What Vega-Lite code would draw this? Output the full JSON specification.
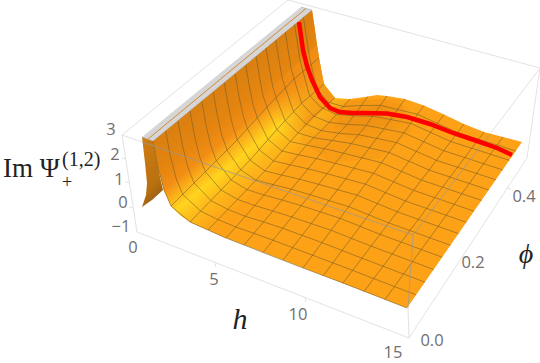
{"$schema":"https://vega.github.io/schema/vega-lite/v6.json","width":540,"height":363,"padding":0,"autosize":{"type":"none"},"background":"white","view":{"stroke":null},
"datasets":{
"box":[
{"s":"a","o":0,"x":122,"y":135},{"s":"a","o":1,"x":288,"y":0},{"s":"a","o":2,"x":540,"y":68},{"s":"a","o":3,"x":527,"y":158},{"s":"a","o":4,"x":409,"y":338},{"s":"a","o":5,"x":137,"y":232},{"s":"a","o":6,"x":122,"y":135},
{"s":"b","o":0,"x":122,"y":135},{"s":"b","o":1,"x":142,"y":142},
{"s":"c","o":0,"x":408,"y":308},{"s":"c","o":1,"x":409,"y":338},
{"s":"d","o":0,"x":490,"y":134},{"s":"d","o":1,"x":540,"y":68},
{"s":"t1","o":0,"x":126,"y":159},{"s":"t1","o":1,"x":122,"y":158},
{"s":"t2","o":0,"x":130,"y":183},{"s":"t2","o":1,"x":126,"y":182},
{"s":"t3","o":0,"x":133,"y":208},{"s":"t3","o":1,"x":129,"y":207},
{"s":"t4","o":0,"x":216,"y":263},{"s":"t4","o":1,"x":215,"y":267},
{"s":"t5","o":0,"x":306,"y":298},{"s":"t5","o":1,"x":305,"y":302},
{"s":"t6","o":0,"x":462,"y":257},{"s":"t6","o":1,"x":466,"y":258},
{"s":"t7","o":0,"x":507,"y":188},{"s":"t7","o":1,"x":511,"y":189}
],
"surface":[
{"o":0,"x":153,"y":141},{"o":1,"x":312,"y":10},{"o":2,"x":315,"y":30},{"o":3,"x":317,"y":45},{"o":4,"x":319,"y":58},{"o":5,"x":322,"y":75},{"o":6,"x":324,"y":84},{"o":7,"x":328,"y":92},{"o":8,"x":335,"y":98},{"o":9,"x":342,"y":100},{"o":10,"x":350,"y":99},{"o":11,"x":368,"y":96.5},{"o":12,"x":377,"y":95},{"o":13,"x":387,"y":96},{"o":14,"x":405,"y":99},{"o":15,"x":424,"y":105.5},{"o":16,"x":444,"y":114.5},{"o":17,"x":464,"y":124},{"o":18,"x":484,"y":132},{"o":19,"x":503,"y":137},{"o":20,"x":522,"y":142},{"o":21,"x":407,"y":308},{"o":22,"x":226,"y":238},{"o":23,"x":208,"y":230},{"o":24,"x":190,"y":222},{"o":25,"x":180,"y":215},{"o":26,"x":171,"y":206},{"o":27,"x":164,"y":190},{"o":28,"x":158,"y":167}
],
"wall":[
{"o":0,"x":153,"y":141},{"o":1,"x":312,"y":10},{"o":2,"x":315,"y":30},{"o":3,"x":317,"y":45},{"o":4,"x":319,"y":58},{"o":5,"x":324,"y":84},{"o":6,"x":335,"y":98},{"o":7,"x":350,"y":99},{"o":8,"x":226,"y":238},{"o":9,"x":208,"y":230},{"o":10,"x":190,"y":222},{"o":11,"x":180,"y":215},{"o":12,"x":171,"y":206},{"o":13,"x":164,"y":190},{"o":14,"x":158,"y":167}
],
"fade":[
{"o":0,"x":263.1,"y":96},{"o":1,"x":317,"y":45},{"o":2,"x":319,"y":58},{"o":3,"x":324,"y":84},{"o":4,"x":335,"y":98},{"o":5,"x":290.3,"y":141.5}
],
"bump":[
{"s":"b0","o":0,"x":305,"y":118},{"s":"b0","o":1,"x":335,"y":100},{"s":"b0","o":2,"x":400,"y":99},{"s":"b0","o":3,"x":412,"y":130},{"s":"b0","o":4,"x":380,"y":158},{"s":"b0","o":5,"x":330,"y":162},{"s":"b0","o":6,"x":300,"y":140},
{"s":"b1","o":0,"x":332,"y":108},{"s":"b1","o":1,"x":345,"y":102},{"s":"b1","o":2,"x":385,"y":99},{"s":"b1","o":3,"x":408,"y":108},{"s":"b1","o":4,"x":398,"y":128},{"s":"b1","o":5,"x":360,"y":140},{"s":"b1","o":6,"x":335,"y":133},
{"s":"b2","o":0,"x":340,"y":111},{"s":"b2","o":1,"x":385,"y":103},{"s":"b2","o":2,"x":400,"y":112},{"s":"b2","o":3,"x":390,"y":124},{"s":"b2","o":4,"x":355,"y":133},{"s":"b2","o":5,"x":338,"y":125},
{"s":"b3","o":0,"x":350,"y":113},{"s":"b3","o":1,"x":380,"y":107},{"s":"b3","o":2,"x":390,"y":113},{"s":"b3","o":3,"x":375,"y":122},{"s":"b3","o":4,"x":350,"y":127}
],
"brown":[
{"o":0,"x":142,"y":137},{"o":1,"x":153,"y":141},{"o":2,"x":160,"y":177},{"o":3,"x":163,"y":190},{"o":4,"x":152,"y":200},{"o":5,"x":142,"y":207},{"o":6,"x":146,"y":195},{"o":7,"x":147,"y":183},{"o":8,"x":145,"y":163}
],
"strip":[
{"o":0,"x":142,"y":137},{"o":1,"x":153,"y":141},{"o":2,"x":312,"y":10},{"o":3,"x":301,"y":7}
],
"stripline":[
{"o":0,"x":148,"y":139},{"o":1,"x":306,"y":8.5}
],
"mesh":[
{"s":"p0","o":0,"x":153,"y":141},{"s":"p0","o":1,"x":158,"y":167},{"s":"p0","o":2,"x":164,"y":190},{"s":"p0","o":3,"x":171,"y":206},{"s":"p0","o":4,"x":190,"y":222},{"s":"p0","o":5,"x":208,"y":230},{"s":"p0","o":6,"x":226,"y":238},{"s":"p0","o":7,"x":244,"y":245},{"s":"p0","o":8,"x":263,"y":252.5},{"s":"p0","o":9,"x":303,"y":268},{"s":"p0","o":10,"x":343,"y":283},{"s":"p0","o":11,"x":407,"y":308},
{"s":"p1","o":0,"x":165.6,"y":130.7},{"s":"p1","o":1,"x":170.4,"y":156.2},{"s":"p1","o":2,"x":176.1,"y":178.5},{"s":"p1","o":3,"x":182.7,"y":194.3},{"s":"p1","o":4,"x":200.6,"y":211.1},{"s":"p1","o":5,"x":218,"y":219.6},{"s":"p1","o":6,"x":235.8,"y":227},{"s":"p1","o":7,"x":253.8,"y":233.3},{"s":"p1","o":8,"x":272.8,"y":240.1},{"s":"p1","o":9,"x":312.6,"y":255.2},{"s":"p1","o":10,"x":352.6,"y":270.4},{"s":"p1","o":11,"x":416.1,"y":294.9},
{"s":"p2","o":0,"x":177.8,"y":120.6},{"s":"p2","o":1,"x":182.5,"y":145.6},{"s":"p2","o":2,"x":187.9,"y":167.4},{"s":"p2","o":3,"x":194.1,"y":182.9},{"s":"p2","o":4,"x":210.9,"y":200.5},{"s":"p2","o":5,"x":227.8,"y":209.4},{"s":"p2","o":6,"x":245.3,"y":216.3},{"s":"p2","o":7,"x":263.3,"y":221.8},{"s":"p2","o":8,"x":282.3,"y":228.1},{"s":"p2","o":9,"x":321.9,"y":242.6},{"s":"p2","o":10,"x":361.9,"y":258.2},{"s":"p2","o":11,"x":424.9,"y":282.1},
{"s":"p3","o":0,"x":189.9,"y":110.6},{"s":"p3","o":1,"x":194.4,"y":135.2},{"s":"p3","o":2,"x":199.5,"y":156.4},{"s":"p3","o":3,"x":205.3,"y":171.7},{"s":"p3","o":4,"x":221.1,"y":190},{"s":"p3","o":5,"x":237.5,"y":199.4},{"s":"p3","o":6,"x":254.8,"y":205.5},{"s":"p3","o":7,"x":272.8,"y":211},{"s":"p3","o":8,"x":291.8,"y":217},{"s":"p3","o":9,"x":331.1,"y":230.3},{"s":"p3","o":10,"x":371.1,"y":246.1},{"s":"p3","o":11,"x":433.7,"y":269.5},
{"s":"p4","o":0,"x":201.7,"y":100.9},{"s":"p4","o":1,"x":206,"y":125.1},{"s":"p4","o":2,"x":210.8,"y":145.6},{"s":"p4","o":3,"x":216.3,"y":160.7},{"s":"p4","o":4,"x":231,"y":179.8},{"s":"p4","o":5,"x":246.9,"y":189.6},{"s":"p4","o":6,"x":263.9,"y":195},{"s":"p4","o":7,"x":281.9,"y":199.9},{"s":"p4","o":8,"x":301,"y":205.6},{"s":"p4","o":9,"x":340,"y":218.3},{"s":"p4","o":10,"x":380,"y":234.3},{"s":"p4","o":11,"x":442.2,"y":257.2},
{"s":"p5","o":0,"x":213.1,"y":91.5},{"s":"p5","o":1,"x":217.3,"y":115.2},{"s":"p5","o":2,"x":221.8,"y":135.2},{"s":"p5","o":3,"x":227,"y":150.1},{"s":"p5","o":4,"x":240.7,"y":169.8},{"s":"p5","o":5,"x":256,"y":180.1},{"s":"p5","o":6,"x":272.9,"y":184.6},{"s":"p5","o":7,"x":290.9,"y":189.1},{"s":"p5","o":8,"x":309.9,"y":194.7},{"s":"p5","o":9,"x":348.7,"y":206.6},{"s":"p5","o":10,"x":388.7,"y":222.9},{"s":"p5","o":11,"x":450.5,"y":245.3},
{"s":"p6","o":0,"x":224.2,"y":82.3},{"s":"p6","o":1,"x":228.3,"y":105.6},{"s":"p6","o":2,"x":232.5,"y":125},{"s":"p6","o":3,"x":237.3,"y":139.7},{"s":"p6","o":4,"x":250,"y":160.2},{"s":"p6","o":5,"x":264.9,"y":170.9},{"s":"p6","o":6,"x":281.6,"y":175},{"s":"p6","o":7,"x":299.6,"y":179.2},{"s":"p6","o":8,"x":318.6,"y":184.3},{"s":"p6","o":9,"x":357.2,"y":195.2},{"s":"p6","o":10,"x":397.2,"y":211.8},{"s":"p6","o":11,"x":458.5,"y":233.6},
{"s":"p7","o":0,"x":235,"y":73.4},{"s":"p7","o":1,"x":239,"y":96.3},{"s":"p7","o":2,"x":243,"y":115.2},{"s":"p7","o":3,"x":247.4,"y":128.6},{"s":"p7","o":4,"x":259.1,"y":149.8},{"s":"p7","o":5,"x":273.5,"y":160.9},{"s":"p7","o":6,"x":290,"y":164.8},{"s":"p7","o":7,"x":308,"y":168.8},{"s":"p7","o":8,"x":327,"y":173.7},{"s":"p7","o":9,"x":365.4,"y":184.1},{"s":"p7","o":10,"x":405.4,"y":201},{"s":"p7","o":11,"x":466.3,"y":222.3},
{"s":"p8","o":0,"x":245.7,"y":64.6},{"s":"p8","o":1,"x":249.5,"y":87.1},{"s":"p8","o":2,"x":253.2,"y":105.5},{"s":"p8","o":3,"x":257.3,"y":117.7},{"s":"p8","o":4,"x":268.1,"y":139.5},{"s":"p8","o":5,"x":282,"y":151},{"s":"p8","o":6,"x":298.3,"y":154.8},{"s":"p8","o":7,"x":316.3,"y":158.6},{"s":"p8","o":8,"x":335.3,"y":163.3},{"s":"p8","o":9,"x":373.5,"y":173.3},{"s":"p8","o":10,"x":413.5,"y":190.3},{"s":"p8","o":11,"x":474,"y":211.2},
{"s":"p9","o":0,"x":256,"y":56.1},{"s":"p9","o":1,"x":259.7,"y":78.2},{"s":"p9","o":2,"x":263.1,"y":96},{"s":"p9","o":3,"x":266.9,"y":107.1},{"s":"p9","o":4,"x":276.8,"y":129.6},{"s":"p9","o":5,"x":290.3,"y":141.5},{"s":"p9","o":6,"x":306.4,"y":145.1},{"s":"p9","o":7,"x":324.4,"y":148.7},{"s":"p9","o":8,"x":343.4,"y":153.2},{"s":"p9","o":9,"x":381.4,"y":162.7},{"s":"p9","o":10,"x":421.4,"y":180},{"s":"p9","o":11,"x":481.5,"y":200.4},
{"s":"p10","o":0,"x":266,"y":47.9},{"s":"p10","o":1,"x":269.6,"y":69.6},{"s":"p10","o":2,"x":272.8,"y":86.9},{"s":"p10","o":3,"x":276.2,"y":97.8},{"s":"p10","o":4,"x":285.3,"y":120.9},{"s":"p10","o":5,"x":298.3,"y":133.1},{"s":"p10","o":6,"x":314.2,"y":137.8},{"s":"p10","o":7,"x":332.2,"y":140.5},{"s":"p10","o":8,"x":351.2,"y":143.5},{"s":"p10","o":9,"x":389,"y":152.5},{"s":"p10","o":10,"x":429,"y":170},{"s":"p10","o":11,"x":488.8,"y":190},
{"s":"p11","o":0,"x":275.7,"y":39.9},{"s":"p11","o":1,"x":279.2,"y":61.2},{"s":"p11","o":2,"x":282.1,"y":78.1},{"s":"p11","o":3,"x":285.3,"y":87.7},{"s":"p11","o":4,"x":293.4,"y":111.5},{"s":"p11","o":5,"x":306,"y":124.1},{"s":"p11","o":6,"x":321.7,"y":130.7},{"s":"p11","o":7,"x":339.7,"y":133.4},{"s":"p11","o":8,"x":358.7,"y":134.7},{"s":"p11","o":9,"x":396.4,"y":142.5},{"s":"p11","o":10,"x":436.4,"y":160.3},{"s":"p11","o":11,"x":495.8,"y":179.8},
{"s":"p12","o":0,"x":285.3,"y":32},{"s":"p12","o":1,"x":288.6,"y":53},{"s":"p12","o":2,"x":291.3,"y":69.4},{"s":"p12","o":3,"x":294.1,"y":78.9},{"s":"p12","o":4,"x":301.5,"y":103.2},{"s":"p12","o":5,"x":313.7,"y":116.2},{"s":"p12","o":6,"x":329.2,"y":122.4},{"s":"p12","o":7,"x":347.2,"y":124.4},{"s":"p12","o":8,"x":366.2,"y":125.3},{"s":"p12","o":9,"x":403.7,"y":132.8},{"s":"p12","o":10,"x":443.7,"y":150.7},{"s":"p12","o":11,"x":502.7,"y":169.9},
{"s":"p13","o":0,"x":294.5,"y":24.4},{"s":"p13","o":1,"x":297.7,"y":45.1},{"s":"p13","o":2,"x":300.2,"y":61},{"s":"p13","o":3,"x":302.7,"y":70.3},{"s":"p13","o":4,"x":309.3,"y":95.2},{"s":"p13","o":5,"x":321,"y":107.5},{"s":"p13","o":6,"x":336.4,"y":114.3},{"s":"p13","o":7,"x":354.4,"y":115.8},{"s":"p13","o":8,"x":373.4,"y":116.2},{"s":"p13","o":9,"x":410.7,"y":123.4},{"s":"p13","o":10,"x":450.7,"y":141.5},{"s":"p13","o":11,"x":509.4,"y":160.3},
{"s":"p14","o":0,"x":303.4,"y":17.1},{"s":"p14","o":1,"x":306.5,"y":37.4},{"s":"p14","o":2,"x":308.7,"y":52.8},{"s":"p14","o":3,"x":311,"y":64},{"s":"p14","o":4,"x":316.8,"y":88.5},{"s":"p14","o":5,"x":328.1,"y":102.1},{"s":"p14","o":6,"x":343.3,"y":106.5},{"s":"p14","o":7,"x":361.3,"y":105.5},{"s":"p14","o":8,"x":380.3,"y":105.4},{"s":"p14","o":9,"x":417.5,"y":114.3},{"s":"p14","o":10,"x":457.5,"y":132.6},{"s":"p14","o":11,"x":515.8,"y":151},
{"s":"h1","o":0,"x":171,"y":206},{"s":"h1","o":1,"x":205.3,"y":171.7},{"s":"h1","o":2,"x":237.3,"y":139.7},{"s":"h1","o":3,"x":266.9,"y":107.1},{"s":"h1","o":4,"x":294.1,"y":78.9},{"s":"h1","o":5,"x":319,"y":58},
{"s":"h2","o":0,"x":190,"y":222},{"s":"h2","o":1,"x":221.1,"y":190},{"s":"h2","o":2,"x":250,"y":160.2},{"s":"h2","o":3,"x":276.8,"y":129.6},{"s":"h2","o":4,"x":301.5,"y":103.2},{"s":"h2","o":5,"x":324,"y":84},
{"s":"h3","o":0,"x":208,"y":230},{"s":"h3","o":1,"x":237.5,"y":199.4},{"s":"h3","o":2,"x":264.9,"y":170.9},{"s":"h3","o":3,"x":290.3,"y":141.5},{"s":"h3","o":4,"x":313.7,"y":116.2},{"s":"h3","o":5,"x":335,"y":98},
{"s":"h4","o":0,"x":226,"y":238},{"s":"h4","o":1,"x":254.8,"y":205.5},{"s":"h4","o":2,"x":281.6,"y":175},{"s":"h4","o":3,"x":306.4,"y":145.1},{"s":"h4","o":4,"x":329.2,"y":122.4},{"s":"h4","o":5,"x":350,"y":99},
{"s":"h5","o":0,"x":244,"y":245},{"s":"h5","o":1,"x":272.8,"y":211},{"s":"h5","o":2,"x":299.6,"y":179.2},{"s":"h5","o":3,"x":324.4,"y":148.7},{"s":"h5","o":4,"x":347.2,"y":124.4},{"s":"h5","o":5,"x":368,"y":96.5},
{"s":"h6","o":0,"x":263,"y":252.5},{"s":"h6","o":1,"x":291.8,"y":217},{"s":"h6","o":2,"x":318.6,"y":184.3},{"s":"h6","o":3,"x":343.4,"y":153.2},{"s":"h6","o":4,"x":366.2,"y":125.3},{"s":"h6","o":5,"x":387,"y":96},
{"s":"h7","o":0,"x":283,"y":260},{"s":"h7","o":1,"x":337.7,"y":189.5},{"s":"h7","o":2,"x":384.5,"y":128},{"s":"h7","o":3,"x":405,"y":99},
{"s":"h8","o":0,"x":303,"y":268},{"s":"h8","o":1,"x":331.1,"y":230.3},{"s":"h8","o":2,"x":357.2,"y":195.2},{"s":"h8","o":3,"x":381.4,"y":162.7},{"s":"h8","o":4,"x":403.7,"y":132.8},{"s":"h8","o":5,"x":424,"y":105.5},
{"s":"h9","o":0,"x":323,"y":276},{"s":"h9","o":1,"x":377.2,"y":203.6},{"s":"h9","o":2,"x":423.7,"y":141.6},{"s":"h9","o":3,"x":444,"y":114.5},
{"s":"h10","o":0,"x":343,"y":283},{"s":"h10","o":1,"x":371.1,"y":246.1},{"s":"h10","o":2,"x":397.2,"y":211.8},{"s":"h10","o":3,"x":421.4,"y":180},{"s":"h10","o":4,"x":443.7,"y":150.7},{"s":"h10","o":5,"x":464,"y":124},
{"s":"h11","o":0,"x":364,"y":291.5},{"s":"h11","o":1,"x":417.8,"y":220},{"s":"h11","o":2,"x":463.8,"y":158.8},{"s":"h11","o":3,"x":484,"y":132},
{"s":"h12","o":0,"x":385,"y":299.5},{"s":"h12","o":1,"x":437.9,"y":226.7},{"s":"h12","o":2,"x":483.2,"y":164.3},{"s":"h12","o":3,"x":503,"y":137}
],
"edges":[
{"s":"e1","o":0,"x":142,"y":142},{"s":"e1","o":1,"x":413,"y":235},
{"s":"e2","o":0,"x":413,"y":235},{"s":"e2","o":1,"x":408,"y":308},
{"s":"e3","o":0,"x":413,"y":235},{"s":"e3","o":1,"x":490,"y":134}
],
"red":[
{"o":0,"x":299,"y":22},{"o":1,"x":301,"y":36},{"o":2,"x":303,"y":50},{"o":3,"x":307,"y":66},{"o":4,"x":312,"y":80},{"o":5,"x":320,"y":97},{"o":6,"x":330,"y":108},{"o":7,"x":340,"y":112},{"o":8,"x":352,"y":113},{"o":9,"x":363,"y":113},{"o":10,"x":387,"y":113.5},{"o":11,"x":407,"y":117},{"o":12,"x":430,"y":124},{"o":13,"x":453,"y":133},{"o":14,"x":477,"y":141},{"o":15,"x":497,"y":148},{"o":16,"x":512,"y":155}
],
"ticks":[
{"t":"3","x":111,"y":130},{"t":"2","x":115,"y":155},{"t":"1","x":119,"y":180},{"t":"0","x":123,"y":203},{"t":"−1","x":121,"y":227},
{"t":"0","x":133,"y":248},{"t":"5","x":214,"y":280},{"t":"10","x":298,"y":315},{"t":"15","x":393,"y":353},
{"t":"0.0","x":432,"y":341},{"t":"0.2","x":473,"y":263},{"t":"0.4","x":524,"y":197}
],
"im":[{"t":"Im Ψ","x":3,"y":177}],
"sup":[{"t":"(1,2)","x":62,"y":166}],
"sub":[{"t":"+","x":62,"y":188}],
"hl":[{"t":"h","x":240,"y":329}],
"pl":[{"t":"ϕ","x":526,"y":263}]
},
"encoding":{
"x":{"field":"x","type":"quantitative","scale":{"domain":[0,540]},"axis":null},
"y":{"field":"y","type":"quantitative","scale":{"domain":[363,0]},"axis":null}
},
"layer":[
{"data":{"name":"box"},"mark":{"type":"line","stroke":"#e2e2e2","strokeWidth":1},"encoding":{"detail":{"field":"s"},"order":{"field":"o"}}},
{"data":{"name":"brown"},"mark":{"type":"line","strokeWidth":0,"fill":{"gradient":"linear","x1":0.3,"y1":0,"x2":0.6,"y2":1,"stops":[{"offset":0,"color":"#CF7C10"},{"offset":0.7,"color":"#B8700F"},{"offset":1,"color":"#8F5A12"}]}},"encoding":{"order":{"field":"o"}}},
{"data":{"name":"surface"},"mark":{"type":"line","strokeWidth":0,"fill":"#FDA116"},"encoding":{"order":{"field":"o"}}},
{"data":{"name":"wall"},"mark":{"type":"line","strokeWidth":0,"fill":{"gradient":"linear","x1":0,"y1":0,"x2":0.575,"y2":0.807,"stops":[{"offset":0.47,"color":"#D97F11"},{"offset":0.6,"color":"#E4850F"},{"offset":0.68,"color":"#F28E15"},{"offset":0.73,"color":"#FBAE1A"},{"offset":0.79,"color":"#FFD41E"},{"offset":0.86,"color":"#FDB91A"},{"offset":0.96,"color":"#FDA316"},{"offset":1,"color":"#FDA116"}]}},"encoding":{"order":{"field":"o"}}},
{"data":{"name":"fade"},"mark":{"type":"line","strokeWidth":0,"fill":{"gradient":"linear","x1":0,"y1":0.528,"x2":0.717,"y2":-0.04,"stops":[{"offset":0,"color":"rgba(242,142,20,0)"},{"offset":0.4,"color":"rgba(242,142,20,0.6)"},{"offset":1,"color":"rgba(242,142,20,0.9)"}]}},"encoding":{"order":{"field":"o"}}},
{"data":{"name":"bump"},"mark":{"type":"line","strokeWidth":0,"fill":"#DC7A10","fillOpacity":0.12},"encoding":{"detail":{"field":"s"},"order":{"field":"o"}}},
{"data":{"name":"mesh"},"mark":{"type":"line","stroke":"#6e5a28","strokeWidth":0.9,"strokeOpacity":0.6},"encoding":{"detail":{"field":"s"},"order":{"field":"o"}}},
{"data":{"name":"edges"},"mark":{"type":"line","stroke":"#999999","strokeWidth":1,"strokeOpacity":0.7},"encoding":{"detail":{"field":"s"},"order":{"field":"o"}}},
{"data":{"name":"red"},"mark":{"type":"line","stroke":"#FF0000","strokeWidth":4.5},"encoding":{"order":{"field":"o"}}},
{"data":{"name":"strip"},"mark":{"type":"line","stroke":"#a0a0a0","strokeWidth":0.5,"fill":"#D6D6D6"},"encoding":{"order":{"field":"o"}}},
{"data":{"name":"stripline"},"mark":{"type":"line","stroke":"#D08A3A","strokeWidth":1},"encoding":{"order":{"field":"o"}}},
{"data":{"name":"ticks"},"mark":{"type":"text","font":"Open Sans","fontSize":16.5,"fill":"#707070","align":"center","baseline":"middle"},"encoding":{"text":{"field":"t"}}},
{"data":{"name":"im"},"mark":{"type":"text","font":"Liberation Serif","fontSize":27,"fill":"#222222","align":"left","baseline":"alphabetic"},"encoding":{"text":{"field":"t"}}},
{"data":{"name":"sup"},"mark":{"type":"text","font":"Liberation Serif","fontSize":20,"fill":"#222222","align":"left","baseline":"alphabetic"},"encoding":{"text":{"field":"t"}}},
{"data":{"name":"sub"},"mark":{"type":"text","font":"Liberation Serif","fontSize":18,"fill":"#222222","align":"left","baseline":"alphabetic"},"encoding":{"text":{"field":"t"}}},
{"data":{"name":"hl"},"mark":{"type":"text","font":"Liberation Serif","fontStyle":"italic","fontSize":30,"fill":"#222222","align":"center","baseline":"alphabetic"},"encoding":{"text":{"field":"t"}}},
{"data":{"name":"pl"},"mark":{"type":"text","font":"Liberation Serif","fontStyle":"italic","fontSize":28,"fill":"#222222","align":"center","baseline":"alphabetic"},"encoding":{"text":{"field":"t"}}}
]}
